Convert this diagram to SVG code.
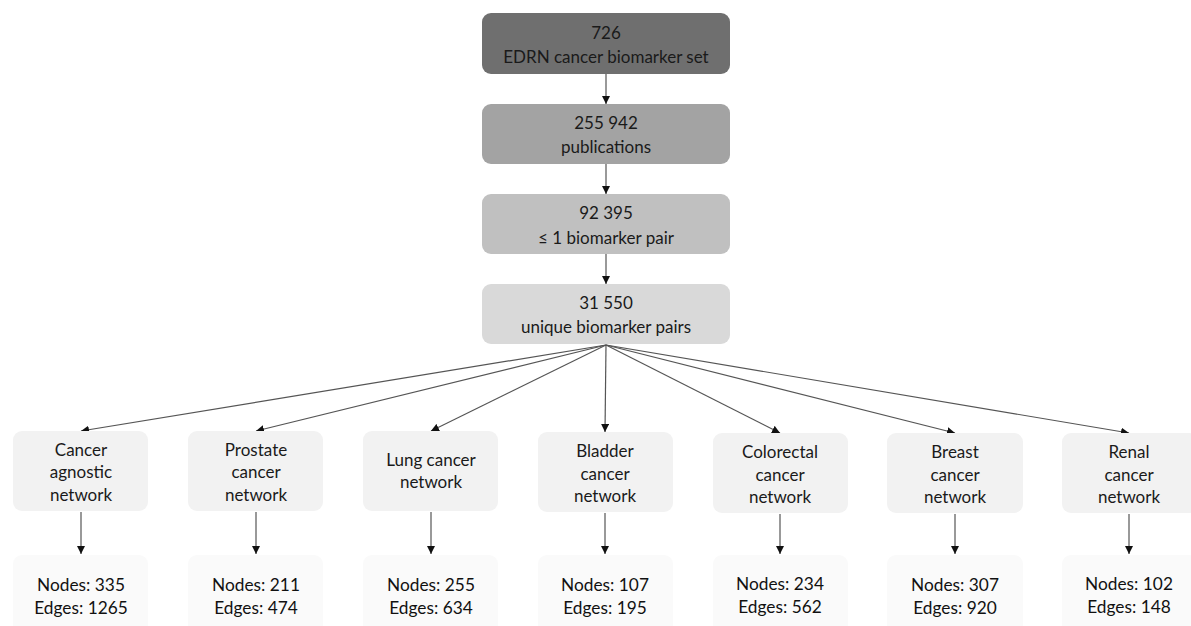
<svg xmlns="http://www.w3.org/2000/svg" width="1191" height="626" viewBox="0 0 1191 626">
<style>
text{font-family:Lato,"Open Sans",sans-serif;font-size:17px;fill:#1a1a1a;text-anchor:middle}
.st{font-size:17.3px;fill:#111}
.net{fill:#f2f2f2}
.stat{fill:#fafafa}
.c line{stroke:#555;stroke-width:1.2;marker-end:url(#ah)}
</style>
<defs>
<marker id="ah" viewBox="0 0 10 10" refX="10" refY="5" markerWidth="8" markerHeight="8" markerUnits="userSpaceOnUse" orient="auto"><path d="M0,0L10,5L0,10z" fill="#111"/></marker>
</defs>
<rect width="1191" height="626" fill="#fff"/>
<g class="c" id="connectors">
<line x1="606" y1="74" x2="606" y2="104"/>
<line x1="606" y1="164" x2="606" y2="194"/>
<line x1="606" y1="254" x2="606" y2="284"/>
<line x1="606" y1="345" x2="81" y2="431"/>
<line x1="606" y1="345" x2="256" y2="431"/>
<line x1="606" y1="345" x2="431" y2="431"/>
<line x1="606" y1="345" x2="605" y2="432"/>
<line x1="606" y1="345" x2="780" y2="433"/>
<line x1="606" y1="345" x2="955" y2="433"/>
<line x1="606" y1="345" x2="1129" y2="433"/>
<line x1="81" y1="512" x2="81" y2="554"/>
<line x1="256" y1="512" x2="256" y2="554"/>
<line x1="431" y1="512" x2="431" y2="554"/>
<line x1="605" y1="513" x2="605" y2="554"/>
<line x1="780" y1="514" x2="780" y2="554"/>
<line x1="955" y1="514" x2="955" y2="554"/>
<line x1="1129" y1="514" x2="1129" y2="554"/>
</g>
<g id="n1"><rect x="482" y="13" width="248" height="61" rx="9" fill="#6f6f6f"/><text x="606" y="39">726</text><text x="606" y="63">EDRN cancer biomarker set</text></g>
<g id="n2"><rect x="482" y="104" width="248" height="60" rx="9" fill="#a3a3a3"/><text x="606" y="129">255 942</text><text x="606" y="153">publications</text></g>
<g id="n3"><rect x="482" y="194" width="248" height="60" rx="9" fill="#c0c0c0"/><text x="606" y="219">92 395</text><text x="606" y="244">≤ 1 biomarker pair</text></g>
<g id="n4"><rect x="482" y="284" width="248" height="60" rx="9" fill="#d9d9d9"/><text x="606" y="309">31 550</text><text x="606" y="333">unique biomarker pairs</text></g>

<g id="agnostic"><rect class="net" x="13" y="431" width="135" height="80" rx="9"/><text x="81" y="456">Cancer</text><text x="81" y="478">agnostic</text><text x="81" y="501">network</text></g>
<g id="prostate"><rect class="net" x="188" y="431" width="135" height="80" rx="9"/><text x="256" y="456">Prostate</text><text x="256" y="478">cancer</text><text x="256" y="501">network</text></g>
<g id="lung"><rect class="net" x="363" y="431" width="135" height="80" rx="9"/><text x="431" y="466">Lung cancer</text><text x="431" y="488">network</text></g>
<g id="bladder"><rect class="net" x="538" y="432" width="135" height="80" rx="9"/><text x="605" y="457">Bladder</text><text x="605" y="480">cancer</text><text x="605" y="502">network</text></g>
<g id="colorectal"><rect class="net" x="713" y="433" width="135" height="80" rx="9"/><text x="780" y="458">Colorectal</text><text x="780" y="481">cancer</text><text x="780" y="503">network</text></g>
<g id="breast"><rect class="net" x="887" y="433" width="136" height="80" rx="9"/><text x="955" y="458">Breast</text><text x="955" y="481">cancer</text><text x="955" y="503">network</text></g>
<g id="renal"><rect class="net" x="1062" y="433" width="136" height="80" rx="9"/><text x="1129" y="458">Renal</text><text x="1129" y="481">cancer</text><text x="1129" y="503">network</text></g>

<g id="s1"><rect class="stat" x="13" y="555" width="135" height="80" rx="9"/><text class="st" x="81" y="591">Nodes: 335</text><text class="st" x="81" y="614">Edges: 1265</text></g>
<g id="s2"><rect class="stat" x="188" y="555" width="135" height="80" rx="9"/><text class="st" x="256" y="591">Nodes: 211</text><text class="st" x="256" y="614">Edges: 474</text></g>
<g id="s3"><rect class="stat" x="363" y="555" width="135" height="80" rx="9"/><text class="st" x="431" y="591">Nodes: 255</text><text class="st" x="431" y="614">Edges: 634</text></g>
<g id="s4"><rect class="stat" x="538" y="555" width="135" height="80" rx="9"/><text class="st" x="605" y="591">Nodes: 107</text><text class="st" x="605" y="614">Edges: 195</text></g>
<g id="s5"><rect class="stat" x="713" y="555" width="135" height="80" rx="9"/><text class="st" x="780" y="590">Nodes: 234</text><text class="st" x="780" y="613">Edges: 562</text></g>
<g id="s6"><rect class="stat" x="887" y="555" width="136" height="80" rx="9"/><text class="st" x="955" y="591">Nodes: 307</text><text class="st" x="955" y="614">Edges: 920</text></g>
<g id="s7"><rect class="stat" x="1062" y="555" width="136" height="80" rx="9"/><text class="st" x="1129" y="590">Nodes: 102</text><text class="st" x="1129" y="613">Edges: 148</text></g>
</svg>
